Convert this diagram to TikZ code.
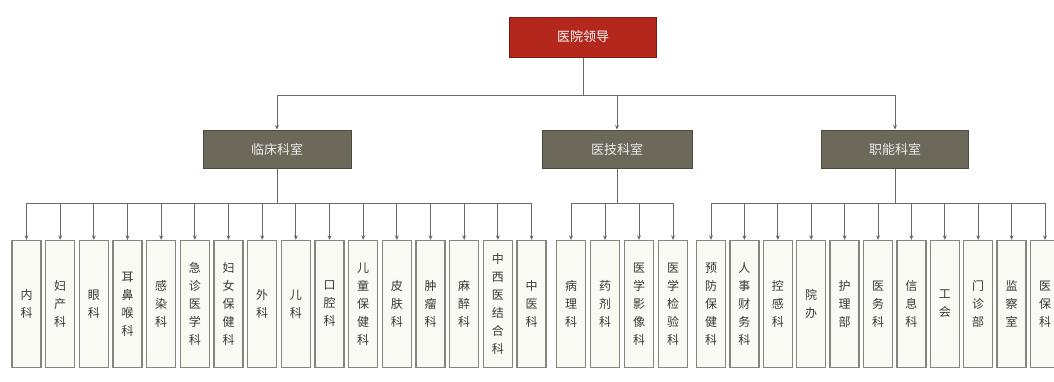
\documentclass[tikz,border=0pt]{standalone}
\usepackage{fontspec}
\newfontfamily\cjk{Noto Sans CJK SC}
\usetikzlibrary{arrows.meta}
\definecolor{topred}{HTML}{B3271D}
\definecolor{topedge}{HTML}{7E1B13}
\definecolor{midfill}{HTML}{6C685A}
\definecolor{midedge}{HTML}{4C493F}
\definecolor{leaffill}{HTML}{FAFAF4}
\definecolor{leafedge}{HTML}{85857C}
\definecolor{linegray}{HTML}{6A6A66}
\begin{document}
\begin{tikzpicture}[x=1pt,y=-1pt,
  topbox/.style={draw=topedge, line width=1pt, fill=topred, minimum width=147pt, minimum height=40pt, inner sep=0pt, text=white, font=\cjk\fontsize{13}{15}\selectfont},
  midbox/.style={draw=midedge, line width=1pt, fill=midfill, minimum height=38pt, inner sep=0pt, text=white!92!black, font=\cjk\fontsize{13}{15}\selectfont},
  leaf/.style={draw=leafedge, line width=1.3pt, fill=leaffill, minimum width=29pt, minimum height=127pt, inner sep=0pt, align=center, text=black!78, font=\cjk\fontsize{12}{18}\selectfont},
  conn/.style={draw=linegray, line width=0.8pt},
  arr/.style={conn, -{Stealth[length=4.5pt,width=4pt]}}]
\useasboundingbox (0,0) rectangle (1054,381);
\clip (0,0) rectangle (1054,381);
\fill[white] (0,0) rectangle (1054,381);

\node[topbox] (top) at (583,37) {医院领导};
\node[midbox, minimum width=148pt] (m1) at (277,149) {临床科室};
\node[midbox, minimum width=150pt] (m2) at (617,149) {医技科室};
\node[midbox, minimum width=147pt] (m3) at (895,149) {职能科室};

\foreach \t [count=\i from 0] in {内\\科, 妇\\产\\科, 眼\\科, 耳\\鼻\\喉\\科, 感\\染\\科, 急\\诊\\医\\学\\科, 妇\\女\\保\\健\\科, 外\\科, 儿\\科, 口\\腔\\科, 儿\\童\\保\\健\\科, 皮\\肤\\科, 肿\\瘤\\科, 麻\\醉\\科, 中\\西\\医\\结\\合\\科, 中\\医\\科}
  \node[leaf] (c\i) at ({26.5+33.67*\i},304) {\t};

\foreach \t [count=\i from 0] in {病\\理\\科, 药\\剂\\科, 医\\学\\影\\像\\科, 医\\学\\检\\验\\科}
  \node[leaf] (t\i) at ({571+34*\i},304) {\t};

\foreach \t [count=\i from 0] in {预\\防\\保\\健\\科, 人\\事\\财\\务\\科, 控\\感\\科, 院\\办, 护\\理\\部, 医\\务\\科, 信\\息\\科, 工\\会, 门\\诊\\部, 监\\察\\室, 医\\保\\科}
  \node[leaf] (f\i) at ({711+33.4*\i},304) {\t};

\foreach \n in {m1,m2,m3}
  \draw[arr] (top.south) -- ++(0,38) -| (\n.north);

\foreach \i in {0,...,15}
  \draw[arr] (m1.south) -- ++(0,35) -| (c\i.north);
\foreach \i in {0,...,3}
  \draw[arr] (m2.south) -- ++(0,35) -| (t\i.north);
\foreach \i in {0,...,10}
  \draw[arr] (m3.south) -- ++(0,35) -| (f\i.north);
\end{tikzpicture}
\end{document}
